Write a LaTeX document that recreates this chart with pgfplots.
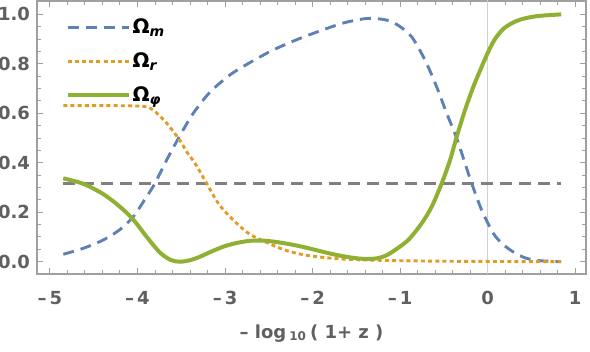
\documentclass[border=0pt]{standalone}
\usepackage{pgfplots}
\pgfplotsset{compat=1.18}
\usepackage{fontspec}
\setmainfont{DejaVu Sans}
\definecolor{colM}{HTML}{5E81B5}
\definecolor{colR}{HTML}{E19C24}
\definecolor{colP}{HTML}{8FB032}
\definecolor{colTL}{HTML}{606060}
\definecolor{colFR}{HTML}{A0A0A0}
\begin{document}
\begin{tikzpicture}
\useasboundingbox (-18.5pt,-39pt) rectangle (276.5pt,137pt);
\begin{axis}[
  scale only axis, width=274.5pt, height=136.5pt,
  xmin=-5.148, xmax=1.123, ymin=-0.0497, ymax=1.054,
  axis line style={colFR, line width=0.6pt},
  xtick={-5,-4,-3,-2,-1,0,1},
  xticklabels={{–\,5},{–\,4},{–\,3},{–\,2},{–\,1},0,1},
  ytick={0,0.2,0.4,0.6,0.8,1.0},
  minor x tick num=4, minor y tick num=3,
  major tick length=3pt, minor tick length=1.8pt,
  tick style={colFR, line width=0.5pt},
  tick align=inside,
  yticklabel style={/pgf/number format/.cd, fixed, fixed zerofill, precision=1, assume math mode=true},
  ticklabel style={font=\bfseries\fontsize{9}{10}\selectfont, text=colTL},
  xticklabel style={yshift=-5pt},
  xlabel={\bfseries – log\,\textsubscript{10}\,( 1+ z )},
  xlabel style={font=\fontsize{9}{10}\selectfont, text=colTL, yshift=-3pt},
  legend style={at={(axis cs:-4.826,0.993)}, anchor=north west, draw=none, fill=none,
    font=\bfseries\fontsize{10}{11}\selectfont, row sep=6pt, inner sep=0pt,
    nodes={inner sep=1pt}},
  legend cell align=left,
  legend image code/.code={\draw[#1] (-2pt,0pt) -- (28.5pt,0pt);},
  legend columns=1,
]
\addplot[forget plot, color=black!18, line width=0.6pt] coordinates {(0,-0.06) (0,1.06)};
\addplot[forget plot, color=black!50, line width=1.4pt, dash pattern=on 6pt off 3.5pt] coordinates {(-4.848,0.317) (0.84,0.317)};
\addplot[colM, line width=1.45pt, dash pattern=on 5.5pt off 3.5pt, smooth, tension=0.5] coordinates {
(-4.848,0.03) (-4.62,0.054) (-4.39,0.088) (-4.2,0.13) (-4.048,0.182) (-3.896,0.263)
(-3.8,0.317) (-3.667,0.411) (-3.515,0.51) (-3.363,0.6) (-3.173,0.685) (-2.944,0.755)
(-2.716,0.805) (-2.45,0.856) (-2.164,0.9) (-1.9,0.935) (-1.65,0.965) (-1.45,0.98)
(-1.33,0.984) (-1.158,0.977) (-1.02,0.955) (-0.868,0.909) (-0.716,0.815) (-0.583,0.707)
(-0.468,0.6) (-0.354,0.499) (-0.259,0.398) (-0.183,0.317) (-0.069,0.209) (0.064,0.115)
(0.175,0.07) (0.3,0.038) (0.44,0.014) (0.6,0.004) (0.84,0.0)};
\addlegendentry{Ω\textsubscript{\itshape m}}
\addplot[colR, line width=1.45pt, dash pattern=on 2pt off 1.6pt, smooth, tension=0.5] coordinates {
(-4.848,0.631) (-4.3,0.631) (-3.934,0.628) (-3.82,0.613) (-3.667,0.56) (-3.515,0.49)
(-3.439,0.445) (-3.344,0.398) (-3.21,0.317) (-3.077,0.236) (-2.925,0.175) (-2.734,0.115)
(-2.544,0.081) (-2.316,0.047) (-2.087,0.027) (-1.783,0.014) (-1.5,0.008) (-1.0,0.004)
(-0.5,0.002) (0,0.001) (0.84,0.0)};
\addlegendentry{Ω\textsubscript{\itshape r}}
\addplot[colP, line width=2pt, smooth, tension=0.5] coordinates {
(-4.848,0.337) (-4.62,0.315) (-4.39,0.273) (-4.2,0.222) (-4.048,0.17) (-3.896,0.101)
(-3.744,0.037) (-3.62,0.007) (-3.515,0.0) (-3.4,0.006) (-3.287,0.02) (-3.15,0.042)
(-3.001,0.063) (-2.85,0.077) (-2.697,0.085) (-2.55,0.085) (-2.4,0.079) (-2.25,0.07)
(-2.1,0.059) (-1.95,0.046) (-1.8,0.033) (-1.65,0.022) (-1.5,0.014) (-1.38,0.011)
(-1.26,0.014) (-1.16,0.025) (-1.059,0.047) (-0.907,0.088) (-0.754,0.155) (-0.64,0.222)
(-0.525,0.317) (-0.43,0.411) (-0.354,0.505) (-0.259,0.613) (-0.164,0.707) (-0.069,0.788)
(0.007,0.849) (0.083,0.9) (0.175,0.94) (0.27,0.963) (0.366,0.978) (0.48,0.988)
(0.594,0.994) (0.84,1.0)};
\addlegendentry{Ω\textsubscript{\itshape φ}}
\end{axis}
\end{tikzpicture}
\end{document}
